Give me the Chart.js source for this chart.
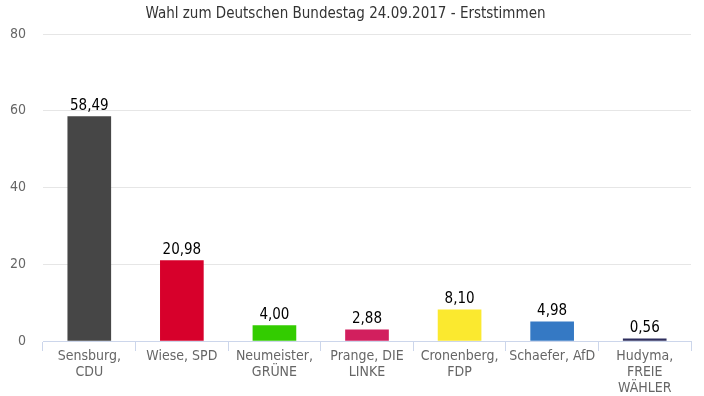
<!DOCTYPE html>
<html>
<head>
<meta charset="utf-8">
<script src="https://cdn.jsdelivr.net/npm/chart.js@4/dist/chart.umd.min.js"></script>
<style>
  html, body { margin: 0; padding: 0; background: #fff; }
  #wrap { width: 704px; height: 396px; position: relative; }
</style>
</head>
<body>
<div id="wrap"><canvas id="chart"></canvas></div>
<script>
const candidates = [
    ['Sensburg,', 'CDU'],
    ['Wiese, SPD'],
    ['Neumeister,', 'GRÜNE'],
    ['Prange, DIE', 'LINKE'],
    ['Cronenberg,', 'FDP'],
    ['Schaefer, AfD'],
    ['Hudyma,', 'FREIE', 'WÄHLER']
];
const votes = [58.49, 20.98, 4.00, 2.88, 8.10, 4.98, 0.56];
const partyColors = ['#464646', '#d7002b', '#33cc00', '#d21f5e', '#fbe92f', '#3579c4', '#2f2f5e'];
const yTicks = [0, 20, 40, 60, 80];

const fmt = v => v.toFixed(2).replace('.', ',');

// value labels above bars
const valueLabels = {
    id: 'valueLabels',
    afterDatasetsDraw(chart) {
        const ctx = chart.ctx;
        const meta = chart.getDatasetMeta(0);
        ctx.save();
        ctx.font = '15px "DejaVu Sans Condensed"';
        ctx.fillStyle = '#000';
        ctx.textAlign = 'center';
        ctx.textBaseline = 'bottom';
        meta.data.forEach((bar, i) => {
            ctx.fillText(fmt(votes[i]), bar.x, bar.y - 3);
        });
        ctx.restore();
    }
};

Chart.defaults.font.family = '"DejaVu Sans Condensed"';
Chart.defaults.animation = false;

new Chart(document.getElementById('chart'), {
    type: 'bar',
    data: {
        labels: candidates,
        datasets: [{
            data: votes,
            backgroundColor: partyColors,
            barThickness: 43
        }]
    },
    options: {
        responsive: true,
        maintainAspectRatio: false,
        layout: { padding: { top: 5, right: 13, bottom: 0, left: 0 } },
        plugins: {
            legend: { display: false },
            tooltip: { enabled: false },
            title: {
                display: true,
                text: 'Wahl zum Deutschen Bundestag 24.09.2017 - Erststimmen',
                color: '#333',
                font: { size: 15, weight: 'normal', lineHeight: 1.2 },
                padding: { top: 0, bottom: 11 }
            }
        },
        scales: {
            y: {
                min: 0,
                max: 80,
                afterBuildTicks: axis => { axis.ticks = yTicks.map(v => ({ value: v })); },
                afterFit: axis => { axis.width = 43; },
                grid: { color: '#e6e6e6', drawTicks: false },
                border: { display: false },
                ticks: { color: '#666', font: { size: 14 }, padding: 17 }
            },
            x: {
                afterFit: axis => { axis.height = 55; },
                grid: {
                    offset: true,
                    drawOnChartArea: false,
                    color: '#ccd6eb',
                    tickLength: 10
                },
                border: { color: '#ccd6eb' },
                ticks: {
                    color: '#666',
                    font: { size: 14, lineHeight: 1.15 },
                    maxRotation: 0,
                    autoSkip: false,
                    padding: -3
                }
            }
        }
    },
    plugins: [valueLabels]
});
</script>
</body>
</html>
